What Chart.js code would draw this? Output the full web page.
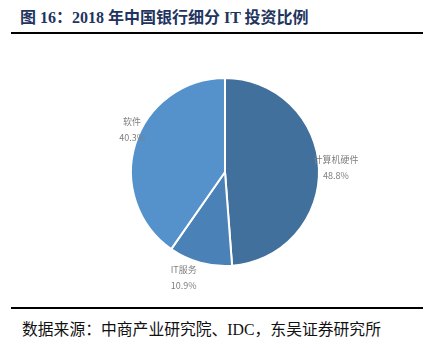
<!DOCTYPE html>
<html>
<head>
<meta charset="utf-8">
<script src="https://cdn.jsdelivr.net/npm/chart.js@4"></script>
<style>
  html, body { margin: 0; padding: 0; background: #fff; }
  #page { position: relative; width: 433px; height: 348px; overflow: hidden; }
  #titulo {
    position: absolute; left: 20px; top: 4px;
    font: bold 16px "Liberation Serif", "Noto Sans CJK SC", serif;
    color: #1f3560; white-space: nowrap;
  }
  .linha { position: absolute; left: 11px; width: 412px; height: 2px; background: #000; }
  #fonte {
    position: absolute; left: 22px; top: 317px;
    font: 15.8px "Liberation Serif", "Noto Sans CJK SC", serif;
    color: #111; white-space: nowrap;
  }
  #campo-grafico { position: absolute; left: 0; top: 40px; width: 433px; height: 260px; }
</style>
</head>
<body>
<div id="page">
  <div id="titulo">图 16：2018 年中国银行细分 IT 投资比例</div>
  <div class="linha" style="top:32px"></div>
  <div id="campo-grafico"><canvas id="grafico"></canvas></div>
  <div class="linha" style="top:307px"></div>
  <div id="fonte">数据来源：中商产业研究院、IDC，东吴证券研究所</div>
</div>
<script>
// categorias e participação (%)
const categorias = ['计算机硬件', 'IT服务', '软件'];
const percentuais = [48.8, 10.9, 40.3];
const cores = ['#41709c', '#4a82b8', '#5592cb'];

// rótulos externos: categoria + percentual
const rotulosExternos = {
  id: 'rotulosExternos',
  afterDatasetsDraw(chart, args, opts) {
    const ctx = chart.ctx;
    const meta = chart.getDatasetMeta(0);
    ctx.save();
    ctx.font = '9px "Noto Sans CJK SC", sans-serif';
    ctx.fillStyle = '#7f7f7f';
    ctx.textAlign = 'center';
    ctx.textBaseline = 'middle';
    meta.data.forEach((arc, i) => {
      const meio = (arc.startAngle + arc.endAngle) / 2;
      const d = arc.outerRadius + opts.distancia;
      const ajuste = opts.ajustes[i] || [0, 0];
      const x = arc.x + Math.cos(meio) * d + ajuste[0];
      const y = arc.y + Math.sin(meio) * d + ajuste[1];
      ctx.fillText(categorias[i], x, y - 8);
      ctx.fillText(percentuais[i].toFixed(1) + '%', x, y + 8);
    });
    ctx.restore();
  }
};

new Chart(document.getElementById('grafico'), {
  type: 'pie',
  data: {
    labels: categorias,
    datasets: [{
      data: percentuais,
      backgroundColor: cores,
      borderColor: '#ffffff',
      borderWidth: 2
    }]
  },
  options: {
    responsive: true,
    maintainAspectRatio: false,
    animation: false,
    layout: { padding: { left: 130, right: 113, top: 37, bottom: 33 } },
    plugins: {
      legend: { display: false },
      tooltip: { enabled: false },
      rotulosExternos: { distancia: 17, ajustes: [[0, 0], [-12, -1], [13, -9]] }
    }
  },
  plugins: [rotulosExternos]
});
</script>
</body>
</html>
